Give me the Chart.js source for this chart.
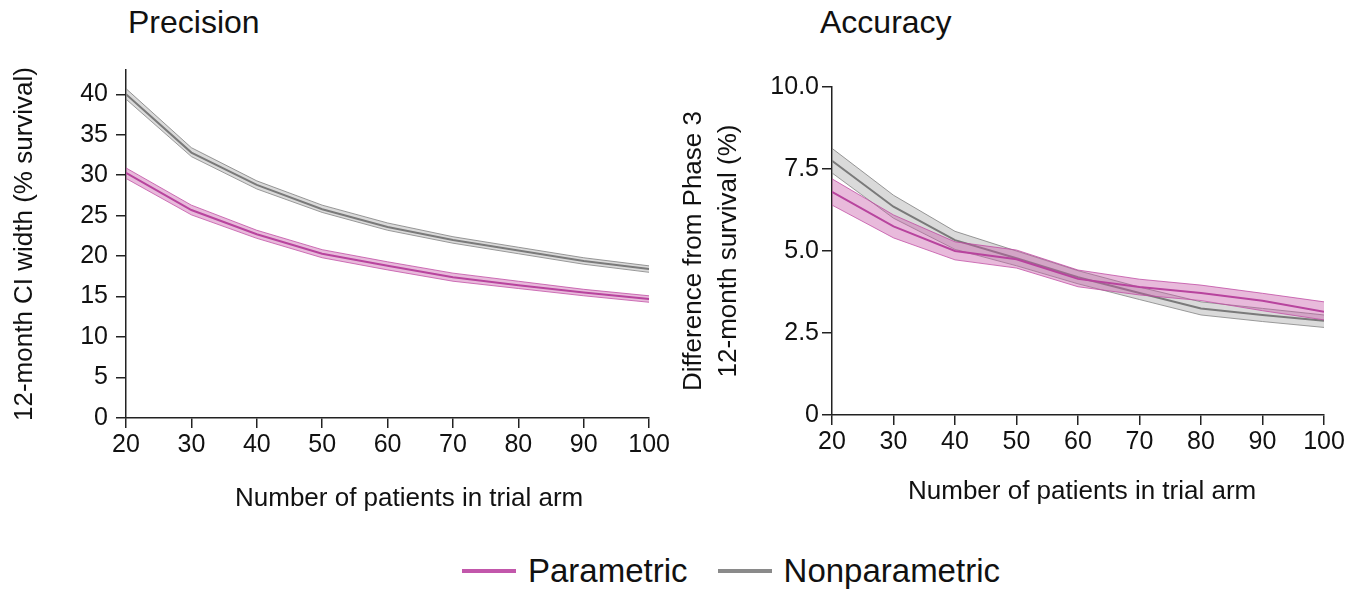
<!DOCTYPE html>
<html>
<head>
<meta charset="utf-8">
<script src="https://cdn.jsdelivr.net/npm/chart.js@4.4.1/dist/chart.umd.min.js"></script>
<style>
  body { margin: 0; background: #fff; width: 1367px; height: 590px; position: relative; overflow: hidden; font-family: 'Liberation Sans', Arial, sans-serif; color: #111; }
  .box { position: absolute; top: 0; height: 530px; }
  .ttl { position: absolute; top: 4px; font-size: 32px; line-height: 36px; }
  .xt { position: absolute; font-size: 26px; line-height: 30px; white-space: nowrap; }
  #legend { position: absolute; left: 462px; top: 552px; display: flex; align-items: center; font-size: 33px; line-height: 38px; }
  .sw { display: inline-block; width: 54px; height: 4px; margin-right: 12px; }
  .item { display: flex; align-items: center; margin-right: 30px; }
</style>
</head>
<body>
<div class="ttl" style="left:128px">Precision</div>
<div class="ttl" style="left:820px">Accuracy</div>
<div class="box" style="left:0;width:672px"><canvas id="precChart"></canvas></div>
<div class="box" style="left:670px;width:697px"><canvas id="accChart"></canvas></div>
<div class="xt" style="left:235px;top:482px">Number of patients in trial arm</div>
<div class="xt" style="left:908px;top:475px">Number of patients in trial arm</div>
<div id="legend">
  <span class="item"><span class="sw" style="background:#c257ab"></span>Parametric</span>
  <span class="item"><span class="sw" style="background:#8a8a8a"></span>Nonparametric</span>
</div>
<script>
let nPatients = [20, 30, 40, 50, 60, 70, 80, 90, 100];

// Precision: 12-month CI width
let precPar   = [30.3, 25.7, 22.7, 20.3, 18.8, 17.4, 16.4, 15.5, 14.7];
let precParHi = [30.9, 26.3, 23.2, 20.8, 19.3, 17.9, 16.9, 15.9, 15.1];
let precParLo = [29.6, 25.1, 22.2, 19.8, 18.3, 16.9, 16.0, 15.1, 14.3];
let precNon   = [40.0, 32.8, 28.8, 25.8, 23.6, 22.0, 20.7, 19.4, 18.4];
let precNonHi = [40.7, 33.4, 29.3, 26.3, 24.1, 22.4, 21.1, 19.8, 18.8];
let precNonLo = [39.4, 32.3, 28.3, 25.4, 23.2, 21.6, 20.3, 19.0, 18.0];

// Accuracy: difference from phase 3
let accPar   = [6.8, 5.75, 5.0, 4.75, 4.15, 3.9, 3.72, 3.48, 3.15];
let accParHi = [7.2, 6.1, 5.28, 5.03, 4.42, 4.14, 3.96, 3.71, 3.45];
let accParLo = [6.4, 5.4, 4.73, 4.48, 3.91, 3.66, 3.49, 3.18, 2.9];
let accNon   = [7.75, 6.35, 5.33, 4.78, 4.2, 3.72, 3.25, 3.05, 2.87];
let accNonHi = [8.13, 6.7, 5.6, 5.0, 4.4, 3.9, 3.45, 3.25, 3.05];
let accNonLo = [7.38, 6.0, 5.05, 4.55, 4.0, 3.52, 3.05, 2.85, 2.67];

Chart.defaults.font.family = "'Liberation Sans', Arial, sans-serif";
Chart.defaults.color = '#111';

const pinkLine = '#b8449e', pinkEdge = 'rgba(190,70,160,0.75)', pinkFill = 'rgba(200,90,170,0.42)';
const grayLine = '#7a7a7a', grayEdge = 'rgba(120,120,120,0.75)', grayFill = 'rgba(150,150,150,0.35)';

function pts(arr) {
  return nPatients.map((n, i) => ({x: n, y: arr[i]}));
}

function bandSets(hi, lo, mid, line, edge, fill) {
  return [
    {data: pts(mid), borderColor: line, borderWidth: 2, fill: false},
    {data: pts(hi), borderColor: edge, borderWidth: 1, fill: '+1', backgroundColor: fill},
    {data: pts(lo), borderColor: edge, borderWidth: 1, fill: false}
  ];
}

function makeChart(id, cfg) {
  return new Chart(document.getElementById(id), {
    type: 'line',
    data: {datasets: [
      ...bandSets(cfg.parHi, cfg.parLo, cfg.par, pinkLine, pinkEdge, pinkFill),
      ...bandSets(cfg.nonHi, cfg.nonLo, cfg.non, grayLine, grayEdge, grayFill)
    ]},
    options: {
      responsive: true,
      maintainAspectRatio: false,
      animation: false,
      elements: {point: {radius: 0}, line: {tension: 0}},
      layout: {padding: cfg.padding},
      plugins: {legend: {display: false}, tooltip: {enabled: false}},
      scales: {
        x: {
          type: 'linear', min: 20, max: 100,
          border: {display: true, color: '#222', width: 1.5},
          grid: {drawOnChartArea: false, drawTicks: true, tickLength: 10, color: '#222', lineWidth: 1.5},
          ticks: {stepSize: 10, padding: 2, font: {size: 25}, maxRotation: 0},
          afterFit: s => { s.height = cfg.xHeight; }
        },
        y: {
          min: 0, max: cfg.yMax,
          border: {display: true, color: '#222', width: 1.5},
          grid: {drawOnChartArea: false, drawTicks: true, tickLength: 10, color: '#222', lineWidth: 1.5},
          ticks: {stepSize: cfg.yStep, includeBounds: false, padding: cfg.tickPad, font: {size: 25}, callback: cfg.fmt},
          title: {display: true, text: cfg.yTitle, font: {size: 26, lineHeight: cfg.yLH}, padding: 0},
          afterFit: s => { s.width = cfg.yWidth; }
        }
      }
    }
  });
}

makeChart('precChart', {
  par: precPar, parHi: precParHi, parLo: precParLo,
  non: precNon, nonHi: precNonHi, nonLo: precNonLo,
  yMax: 43, yStep: 5, tickPad: 8, yLH: 1.2,
  fmt: v => v,
  yTitle: '12-month CI width (% survival)',
  padding: {left: 9, right: 21, top: 70, bottom: 17},
  yWidth: 117, xHeight: 95
});

makeChart('accChart', {
  par: accPar, parHi: accParHi, parLo: accParLo,
  non: accNon, nonHi: accNonHi, nonLo: accNonLo,
  yMax: 10, yStep: 2.5, tickPad: 3, yLH: 1.35,
  fmt: v => v === 0 ? '0' : v.toFixed(1),
  yTitle: ['Difference from Phase 3', '12-month survival (%)'],
  padding: {left: 6.5, right: 43, top: 87, bottom: 24},
  yWidth: 155.5, xHeight: 91
});
</script>
</body>
</html>
